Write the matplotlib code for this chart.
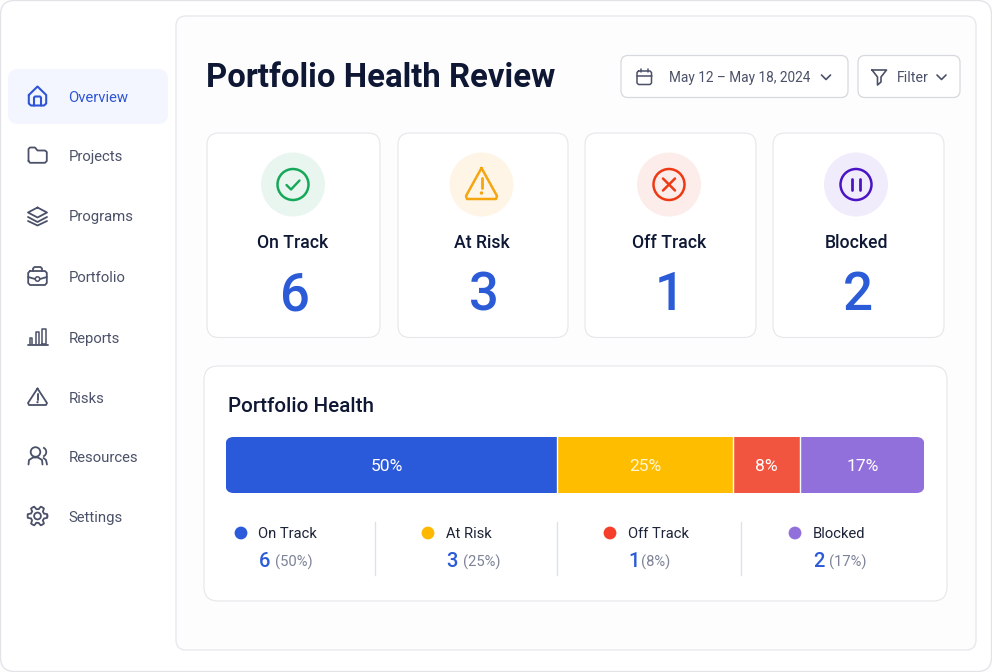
import numpy as np
import matplotlib
matplotlib.use("Agg")
import matplotlib.pyplot as plt
from matplotlib.patches import FancyBboxPatch, Circle, Arc

plt.rcParams['font.family'] = ['Roboto', 'DejaVu Sans']

# ---------- data ----------
statuses = ["On Track", "At Risk", "Off Track", "Blocked"]
counts = [6, 3, 1, 2]
percent_labels = ["50%", "25%", "8%", "17%"]
bar_widths = [47.4, 25.2, 9.6, 17.8]  # drawn widths
bar_colors = ["#2a59d9", "#ffbd00", "#f2553f", "#9270dc"]
dot_colors = ["#2b5bdb", "#ffb800", "#f63f2a", "#9270dc"]
nav_items = ["Overview", "Projects", "Programs", "Portfolio", "Reports", "Risks", "Resources", "Settings"]
title = "Portfolio Health Review"
date_range = "May 12 \u2013 May 18, 2024"

INK = "#0e1733"
BLUE = "#2b5bd7"
NAV = "#4b5168"
BORDER = "#e8e9ed"

fig = plt.figure(figsize=(9.92, 6.72), dpi=100, facecolor="white")
ax = fig.add_axes([0, 0, 1, 1])
ax.set_xlim(0, 992)
ax.set_ylim(672, 0)
ax.axis("off")


def rbox(x0, y0, x1, y1, r, fc="white", ec=BORDER, lw=0.8, z=1):
    p = FancyBboxPatch((x0 + r, y0 + r), x1 - x0 - 2 * r, y1 - y0 - 2 * r,
                       boxstyle=f"round,pad={r},rounding_size={r}",
                       fc=fc, ec=ec, lw=lw, zorder=z)
    ax.add_patch(p)
    return p


def line(xs, ys, c=NAV, lw=1.3, z=5):
    ax.plot(xs, ys, color=c, lw=lw, solid_capstyle="round", solid_joinstyle="round", zorder=z)


def ring(x, y, r, c=NAV, lw=1.3, fc="none", z=5):
    ax.add_patch(Circle((x, y), r, fc=fc, ec=c, lw=lw, zorder=z))


def text(x, y, s, size, c=INK, ha="left", weight="normal", z=6):
    ax.text(x, y + 0.1 * size, s, fontsize=size, color=c, ha=ha, va="center", fontweight=weight, zorder=z)


# ---------- frames ----------
rbox(0.5, 0.5, 991.5, 671.5, 14, fc="white", ec="#e2e4e8", lw=1.0, z=0)
rbox(176, 16, 976, 650, 10, fc="#fdfdfe", ec="#e6e7ec", lw=0.9)
rbox(8, 69, 168, 124, 10, fc="#f3f6fe", ec="none", lw=0)

# ---------- sidebar ----------
nav_y = [97, 156, 216, 277, 338, 398, 457, 517]
for i, (name, y) in enumerate(zip(nav_items, nav_y)):
    text(68.5, y, name, 10.7, c="#2f55d4" if i == 0 else NAV)

HB = "#2f55d4"
line([28.8, 37.5, 46.2, 46.2, 44, 31, 28.8, 28.8], [95, 86.5, 95, 103.5, 105.5, 105.5, 103.5, 95], c=HB, lw=1.5)
line([34, 34, 35, 40, 41, 41], [105.5, 97.5, 96.5, 96.5, 97.5, 105.5], c=HB, lw=1.5)
# folder
line([28.5, 28.5, 30, 35, 37.5, 45, 46.8, 46.8, 45, 30, 28.5],
     [161, 149, 147.5, 147.5, 150.5, 150.5, 152, 161, 162.8, 162.8, 161])
# layers
line([37.5, 47, 37.5, 28, 37.5], [207.5, 212.5, 217.5, 212.5, 207.5])
line([28, 37.5, 47], [217, 222, 217])
line([28, 37.5, 47], [221, 225.5, 221])
# briefcase
line([30, 45, 46.8, 46.8, 45, 30, 28.2, 28.2, 30], [271, 271, 272.8, 283, 285, 285, 283, 272.8, 271])
line([33, 33, 34.5, 40.5, 42, 42], [271, 268.5, 267, 267, 268.5, 271])
line([28.2, 35], [277, 279])
line([40, 46.8], [279, 277])
ring(37.5, 279, 2.2, lw=1.1)
# reports
line([27.5, 47.5], [345, 345])
line([29.5, 29.5, 32, 32], [344, 338, 338, 344], lw=1.1)
line([35.5, 35.5, 38.5, 38.5], [344, 332, 332, 344], lw=1.1)
line([41.5, 41.5, 46, 46, 41.5], [344, 329, 329, 344, 344], lw=1.1)
# risks
line([37.5, 47, 46, 29, 28, 37.5], [388.5, 403, 405, 405, 403, 388.5])
line([37.5, 37.5], [394, 399.5], lw=1.4)
ax.add_patch(Circle((37.5, 402.2), 1.1, fc=NAV, ec="none", zorder=5))
# resources
ring(35.5, 452, 4.8)
line([28.5, 29, 33, 38, 42, 42.5], [464.5, 460, 457.5, 457.5, 460, 464.5])
ax.add_patch(Arc((41.5, 452), 9.5, 9.5, angle=0, theta1=-70, theta2=70, ec=NAV, lw=1.3, zorder=5))
line([43.5, 46, 47], [458, 460, 464.5])
# settings
th = np.linspace(0, 2 * np.pi, 241)
rad = 8.4 + 1.5 * np.clip(2.2 * np.cos(6 * th), -1, 1)
line(37.5 + rad * np.cos(th), 516 + rad * np.sin(th))
ring(37.5, 516, 3.4)

# ---------- header ----------
text(206.5, 76, title, 23.7, weight="bold")
rbox(621, 55.5, 848, 97.5, 7, fc="white", ec="#d6d9df", lw=0.9)
rbox(858, 55.5, 960, 97.5, 7, fc="white", ec="#d6d9df", lw=0.9)
text(669, 77, date_range, 9.85, c=NAV)
text(897, 77, "Filter", 10.3, c=NAV)
line([821.5, 826, 830.5], [75, 79.5, 75], lw=1.2)
line([937, 941.5, 946], [75, 79.5, 75], lw=1.2)
line([638.5, 650, 651.5, 651.5, 650, 638.5, 637, 637, 638.5], [71, 71, 72.5, 83, 84.5, 84.5, 83, 72.5, 71], lw=1.1)
line([637, 651.5], [75.5, 75.5], lw=1.1)
line([641, 641], [69, 72], lw=1.1)
line([647.5, 647.5], [69, 72], lw=1.1)
line([872, 886.5, 881, 881, 877.5, 877.5, 872], [70, 70, 77, 82, 85, 77, 70], lw=1.2)

# ---------- status cards ----------
cards = [(207, 380), (398, 568), (585, 756), (773, 944)]
centers = [293, 481.5, 669, 856]
tints = ["#e9f6ef", "#fef5e7", "#fcecea", "#f0ecfb"]
icon_cols = ["#16a85a", "#f5a50f", "#ee3a14", "#4a14c4"]
for (x0, x1), cx, tint, col, name, n in zip(cards, centers, tints, icon_cols, statuses, counts):
    rbox(x0, 133, x1, 337.5, 12, fc="white", ec="#e6e7eb")
    ax.add_patch(Circle((cx, 184.5), 32, fc=tint, ec="none", zorder=2))
    text(cx + (0 if name != "Off Track" else 0.5), 242, name, 12.7, ha="center", weight="medium")
    text(cx + (2 if name != "Off Track" else 1), 292, str(n), 38, c=BLUE, ha="center", weight="medium")

line_w = 1.8
ring(293, 184.5, 15.5, c=icon_cols[0], lw=line_w)
line([286.5, 291, 299.5], [185, 189.5, 180.5], c=icon_cols[0], lw=1.7)
c = icon_cols[1]
line([481.5, 497, 496, 467, 466, 481.5], [168, 196, 199, 199, 196, 168], c=c, lw=line_w)
line([481.5, 481.5], [178, 188], c=c, lw=2.0)
ax.add_patch(Circle((481.5, 193), 1.7, fc=c, ec="none", zorder=5))
c = icon_cols[2]
ring(669, 184.5, 15.5, c=c, lw=line_w)
line([663, 675], [178.5, 190.5], c=c, lw=1.8)
line([675, 663], [178.5, 190.5], c=c, lw=1.8)
c = icon_cols[3]
ring(856, 184.5, 15.5, c=c, lw=line_w)
line([852.3, 852.3], [179, 190], c=c, lw=2.0)
line([859.7, 859.7], [179, 190], c=c, lw=2.0)

# ---------- health panel ----------
rbox(204, 366, 947, 601, 14, fc="white", ec="#e6e7eb")
text(227.5, 405, "Portfolio Health", 14.9, weight="medium")

bar_left, bar_top, bar_right, bar_bottom = 225.5, 437, 924.5, 493
bax = fig.add_axes([bar_left / 992, 1 - bar_bottom / 672, (bar_right - bar_left) / 992, (bar_bottom - bar_top) / 672])
bax.set_xlim(0, sum(bar_widths))
bax.set_ylim(-0.5, 0.5)
bax.axis("off")
clip = FancyBboxPatch((bar_left + 8, bar_top + 8), bar_right - bar_left - 16, bar_bottom - bar_top - 16,
                      boxstyle="round,pad=8,rounding_size=8", transform=ax.transData, fc="none", ec="none")
left = 0.0
for i, (w, col, lab) in enumerate(zip(bar_widths, bar_colors, percent_labels)):
    b = bax.barh(0, w, left=left, height=1.0, color=col, edgecolor="none", linewidth=0)[0]
    b.set_clip_path(clip)
    if i:
        bax.axvline(left, color="white", lw=1.0, zorder=4)
    bax.text(left + w / 2 - (0.6 if i == 0 else 0), -0.02, lab, color="white" if col != "#ffbd00" else "#fff6d8",
             ha="center", va="center", fontsize=12.6, fontweight="normal", zorder=5)
    left += w

dots_x = [241, 428, 610, 795]
labels_x = [258.5, 446, 628, 813]
pct_gap = [16.5, 16.5, 13, 16]
for dx, lx, gap, col, name, n, lab in zip(dots_x, labels_x, pct_gap, dot_colors, statuses, counts, percent_labels):
    ax.add_patch(Circle((dx, 533), 6.4, fc=col, ec="none", zorder=5))
    text(lx, 533, name, 10.6, c="#1d2338")
    text(lx, 560, str(n), 14.5, c=BLUE, weight="medium")
    text(lx + gap, 561, f"({lab})", 10.6, c="#7c8297")
for sx in [375, 557, 741]:
    ax.plot([sx, sx], [522, 575], color="#dfe1e6", lw=1.0, zorder=3)

fig.savefig("out.png", dpi=100, facecolor="white")
